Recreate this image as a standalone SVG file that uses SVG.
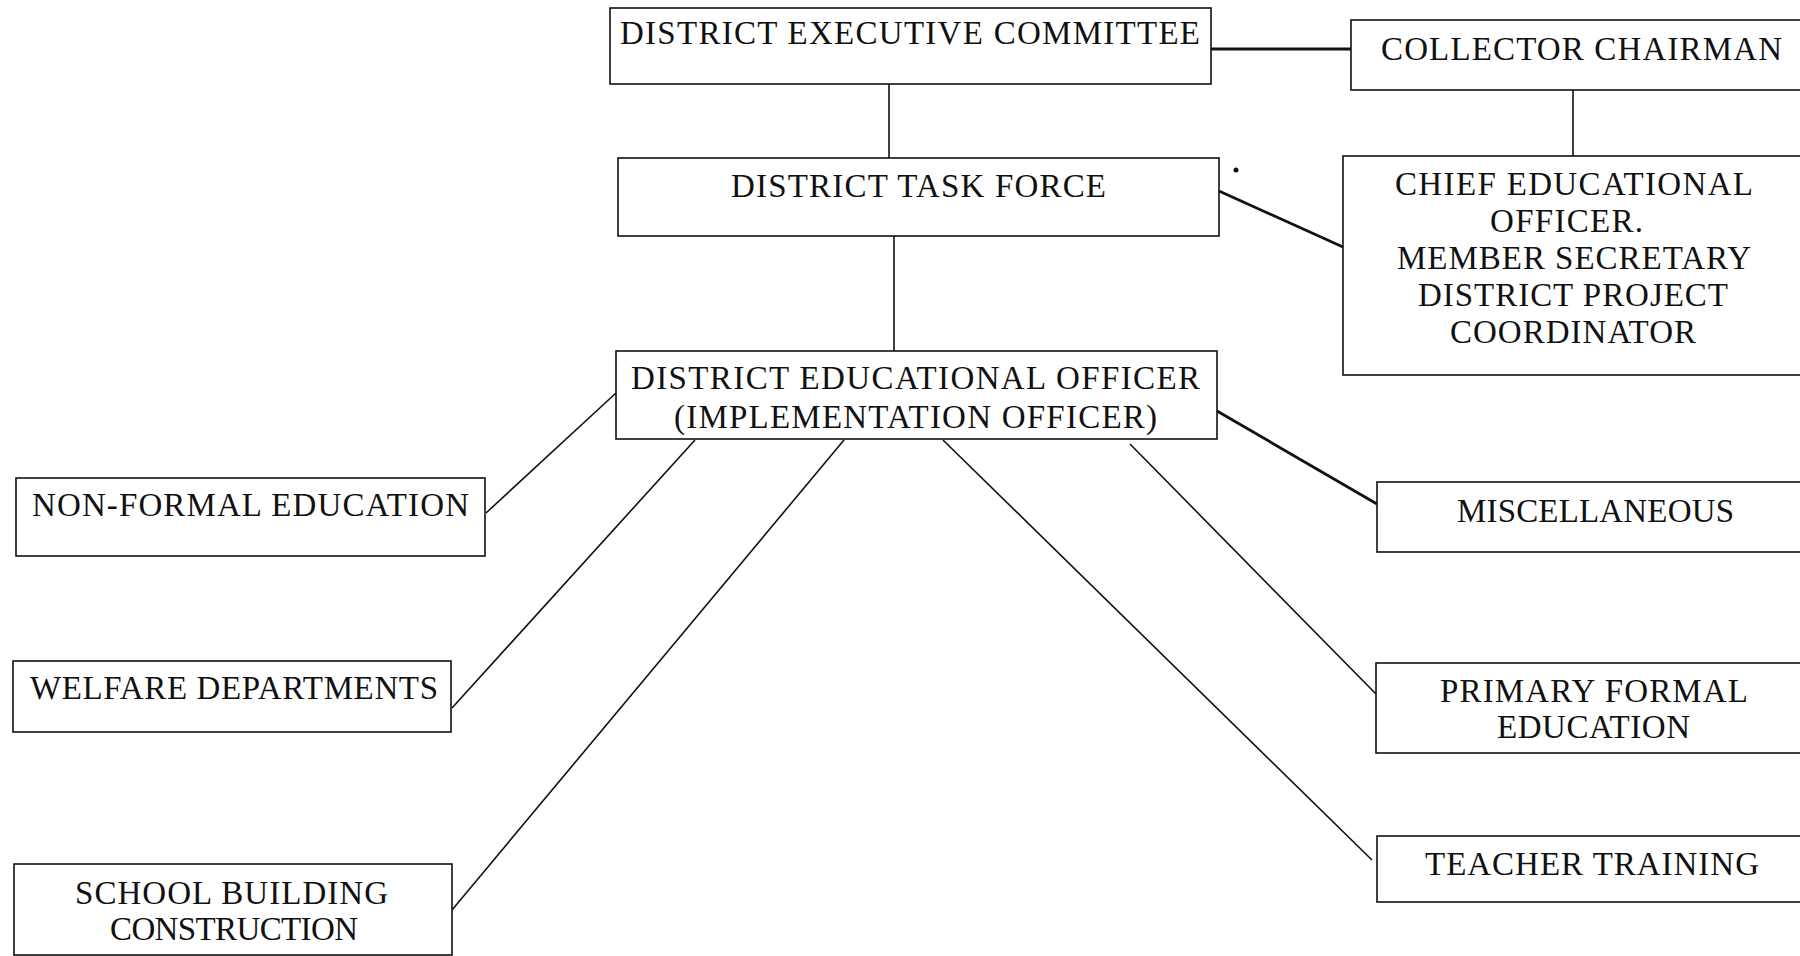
<svg xmlns="http://www.w3.org/2000/svg" width="1800" height="956" viewBox="0 0 1800 956">
<style>
.box{fill:#fff;stroke:#111;stroke-width:1.6}
.t{font-family:"Liberation Serif","Times New Roman",serif;font-size:33px;fill:#111}
.c{stroke:#111;stroke-width:1.6;fill:none}
.ct{stroke:#111;stroke-width:2.8;fill:none}
</style>
<rect width="1800" height="956" fill="#fff"/>
<g id="connectors">
<line class="ct" x1="1211" y1="49" x2="1351" y2="49"/>
<line class="c" x1="889" y1="84" x2="889" y2="158"/>
<line class="c" x1="1573" y1="90" x2="1573" y2="156"/>
<line class="ct" x1="1219" y1="191" x2="1343" y2="247"/>
<line class="c" x1="894" y1="236" x2="894" y2="351"/>
<line class="c" x1="616" y1="393" x2="486" y2="513"/>
<line class="c" x1="695" y1="440" x2="452" y2="708"/>
<line class="c" x1="844" y1="440" x2="452" y2="910"/>
<line class="c" x1="943" y1="440" x2="1372" y2="860"/>
<line class="c" x1="1130" y1="444" x2="1376" y2="694"/>
<line class="ct" x1="1217" y1="411" x2="1377" y2="504"/>
</g>
<g id="dec">
<rect class="box" x="610" y="8" width="601" height="76"/>
<text class="t" x="620" y="44" textLength="580" lengthAdjust="spacing">DISTRICT EXECUTIVE COMMITTEE</text>
</g>
<g id="collector">
<rect class="box" x="1351" y="20" width="460" height="70"/>
<text class="t" x="1381" y="60" textLength="401" lengthAdjust="spacing">COLLECTOR CHAIRMAN</text>
</g>
<g id="dtf">
<rect class="box" x="618" y="158" width="601" height="78"/>
<text class="t" x="731" y="197" textLength="375" lengthAdjust="spacing">DISTRICT TASK FORCE</text>
</g>
<g id="ceo">
<rect class="box" x="1343" y="156" width="468" height="219"/>
<text class="t" x="1395" y="195" textLength="358" lengthAdjust="spacing">CHIEF EDUCATIONAL</text>
<text class="t" x="1490" y="232" textLength="153" lengthAdjust="spacing">OFFICER.</text>
<text class="t" x="1397" y="269" textLength="354" lengthAdjust="spacing">MEMBER SECRETARY</text>
<text class="t" x="1418" y="306" textLength="310" lengthAdjust="spacing">DISTRICT PROJECT</text>
<text class="t" x="1450" y="343" textLength="246" lengthAdjust="spacing">COORDINATOR</text>
</g>
<g id="deo">
<rect class="box" x="616" y="351" width="601" height="88"/>
<text class="t" x="631" y="389" textLength="569" lengthAdjust="spacing">DISTRICT EDUCATIONAL OFFICER</text>
<text class="t" x="674" y="428" textLength="483" lengthAdjust="spacing">(IMPLEMENTATION OFFICER)</text>
</g>
<g id="nfe">
<rect class="box" x="16" y="478" width="469" height="78"/>
<text class="t" x="32" y="516" textLength="437" lengthAdjust="spacing">NON-FORMAL EDUCATION</text>
</g>
<g id="welfare">
<rect class="box" x="13" y="661" width="438" height="71"/>
<text class="t" x="30" y="699" textLength="408" lengthAdjust="spacing">WELFARE DEPARTMENTS</text>
</g>
<g id="school">
<rect class="box" x="14" y="864" width="438" height="91"/>
<text class="t" x="75" y="904" textLength="313" lengthAdjust="spacing">SCHOOL BUILDING</text>
<text class="t" x="110" y="940" textLength="248" lengthAdjust="spacing">CONSTRUCTION</text>
</g>
<g id="misc">
<rect class="box" x="1377" y="482" width="434" height="70"/>
<text class="t" x="1457" y="522" textLength="277" lengthAdjust="spacing">MISCELLANEOUS</text>
</g>
<g id="pfe">
<rect class="box" x="1376" y="663" width="435" height="90"/>
<text class="t" x="1440" y="702" textLength="308" lengthAdjust="spacing">PRIMARY FORMAL</text>
<text class="t" x="1497" y="738" textLength="193" lengthAdjust="spacing">EDUCATION</text>
</g>
<g id="tt">
<rect class="box" x="1377" y="836" width="434" height="66"/>
<text class="t" x="1425" y="875" textLength="334" lengthAdjust="spacing">TEACHER TRAINING</text>
</g>
<circle cx="1236" cy="170" r="2.5" fill="#111"/>
</svg>
